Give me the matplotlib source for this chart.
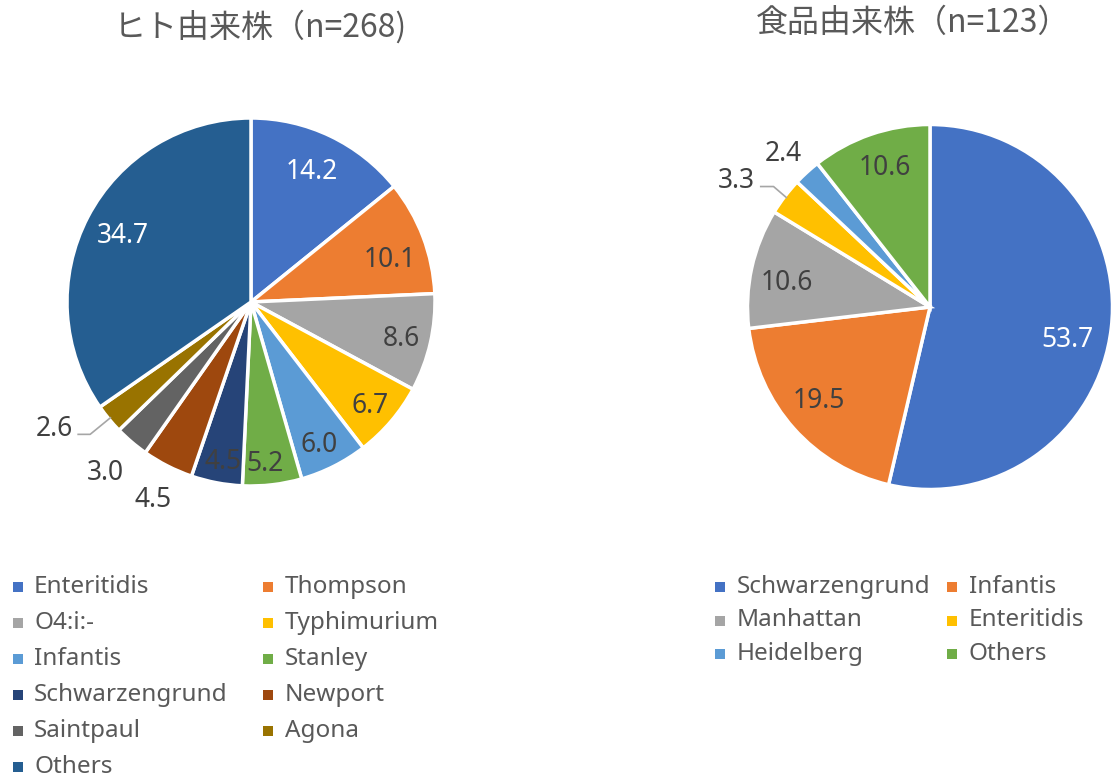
import numpy as np
import matplotlib
matplotlib.use('Agg')
import matplotlib.pyplot as plt
from matplotlib.patches import Rectangle

plt.rcParams['font.family'] = ['Noto Sans', 'Noto Sans CJK JP', 'DejaVu Sans']

# ---------------- data ----------------
human_title = 'ヒト由来株（n=268)'
human_labels = ['Enteritidis', 'Thompson', 'O4:i:-', 'Typhimurium', 'Infantis', 'Stanley',
                'Schwarzengrund', 'Newport', 'Saintpaul', 'Agona', 'Others']
human_values = [14.2, 10.1, 8.6, 6.7, 6.0, 5.2, 4.5, 4.5, 3.0, 2.6, 34.7]

food_title = '食品由来株（n=123）'
food_labels = ['Schwarzengrund', 'Infantis', 'Manhattan', 'Enteritidis', 'Heidelberg', 'Others']
food_values = [53.7, 19.5, 10.6, 3.3, 2.4, 10.6]

# ---------------- styles ----------------
human_colors = ['#4472C4', '#ED7D31', '#A5A5A5', '#FFC000', '#5B9BD5', '#70AD47',
                '#264478', '#9E480E', '#636363', '#997300', '#255E91']
food_colors = ['#4472C4', '#ED7D31', '#A5A5A5', '#FFC000', '#5B9BD5', '#70AD47']

DARK = '#404040'
TXT = '#595959'
# label placement: radius factor (None = leader-line label), text colour, angle nudge (deg)
human_lab_r = [0.79, 0.79, 0.84, 0.85, 0.85, 0.87, 0.87, 1.19, 1.21, None, 0.79]
human_lab_c = ['white', DARK, DARK, DARK, DARK, DARK, DARK, DARK, DARK, DARK, 'white']
human_lab_d = [1, -3, 0, 0, -1, -1.5, 0.6, 0.3, -0.3, 0, -0.4]
food_lab_r = [0.77, 0.79, 0.80, None, 1.17, 0.81]
food_lab_c = ['white', DARK, DARK, DARK, DARK, DARK]
food_lab_d = [-6.3, -2, 2, 0, 0.8, -1.3]
# leader geometry: knee dx, knee dy, horizontal length, text dy (radius units)
human_leader = (-0.11, -0.09, 0.065, 0.04)
food_leader = (-0.07, 0.06, 0.07, 0.045)

W, H = 1115, 781
fig = plt.figure(figsize=(W / 100, H / 100), dpi=100)
LIM = 1.3
LFS = 19
YSH = -0.012  # small downward shift so glyphs sit centred like the reference


def add_pie(cx, cy, R, values, colors, lab_r, lab_c, lab_d, leader):
    half = LIM * R
    ax = fig.add_axes([(cx - half) / W, (H - cy - half) / H, 2 * half / W, 2 * half / H])
    wedges, _ = ax.pie(values, colors=colors, startangle=90, counterclock=False,
                       wedgeprops=dict(edgecolor='white', linewidth=2.5))
    ax.set_xlim(-LIM, LIM)
    ax.set_ylim(-LIM, LIM)
    ax.set_aspect('equal')
    ax.axis('off')
    for w, v, r, c, d in zip(wedges, values, lab_r, lab_c, lab_d):
        mid = np.deg2rad((w.theta1 + w.theta2) / 2)
        if r is not None:
            a = mid + np.deg2rad(d)
            ax.text(r * np.cos(a), r * np.sin(a) + YSH, f'{v:.1f}', ha='center', va='center',
                    fontsize=LFS, color=c)
        else:
            x0, y0 = 0.99 * np.cos(mid), 0.99 * np.sin(mid)
            kx, ky = x0 + leader[0], y0 + leader[1]
            ex = kx - leader[2]
            ax.plot([x0, kx, ex], [y0, ky, ky], color='#A6A6A6', lw=1.2, clip_on=False)
            ax.text(ex - 0.03, ky + leader[3] + YSH, f'{v:.1f}', ha='right', va='center',
                    fontsize=LFS, color=DARK)
    return ax


add_pie(251, 302, 184, human_values, human_colors, human_lab_r, human_lab_c, human_lab_d,
        human_leader)
add_pie(930, 307, 182.5, food_values, food_colors, food_lab_r, food_lab_c, food_lab_d,
        food_leader)

fig.text(260 / W, 1 - 27 / H, human_title, ha='center', va='center', fontsize=23, color=TXT,
         family=['Noto Sans CJK JP', 'Noto Sans'])
fig.text(913 / W, 1 - 23 / H, food_title, ha='center', va='center', fontsize=23, color=TXT,
         family=['Noto Sans CJK JP', 'Noto Sans'])


def add_legend(labels, colors, mx, tx, y0, dy):
    for i, (lab, col) in enumerate(zip(labels, colors)):
        r, c = divmod(i, 2)
        y = y0 + r * dy
        fig.add_artist(Rectangle((mx[c] / W, (H - y - 5) / H), 10 / W, 10 / H,
                                 transform=fig.transFigure, facecolor=col, edgecolor='none'))
        fig.text(tx[c] / W, 1 - y / H, lab, ha='left', va='center', fontsize=17.5, color=TXT)


add_legend(human_labels, human_colors, (13, 263), (34, 285), 587, 36)
add_legend(food_labels, food_colors, (715, 947), (737, 969), 587, 33.5)

fig.savefig('out.png', dpi=100, facecolor='white')
